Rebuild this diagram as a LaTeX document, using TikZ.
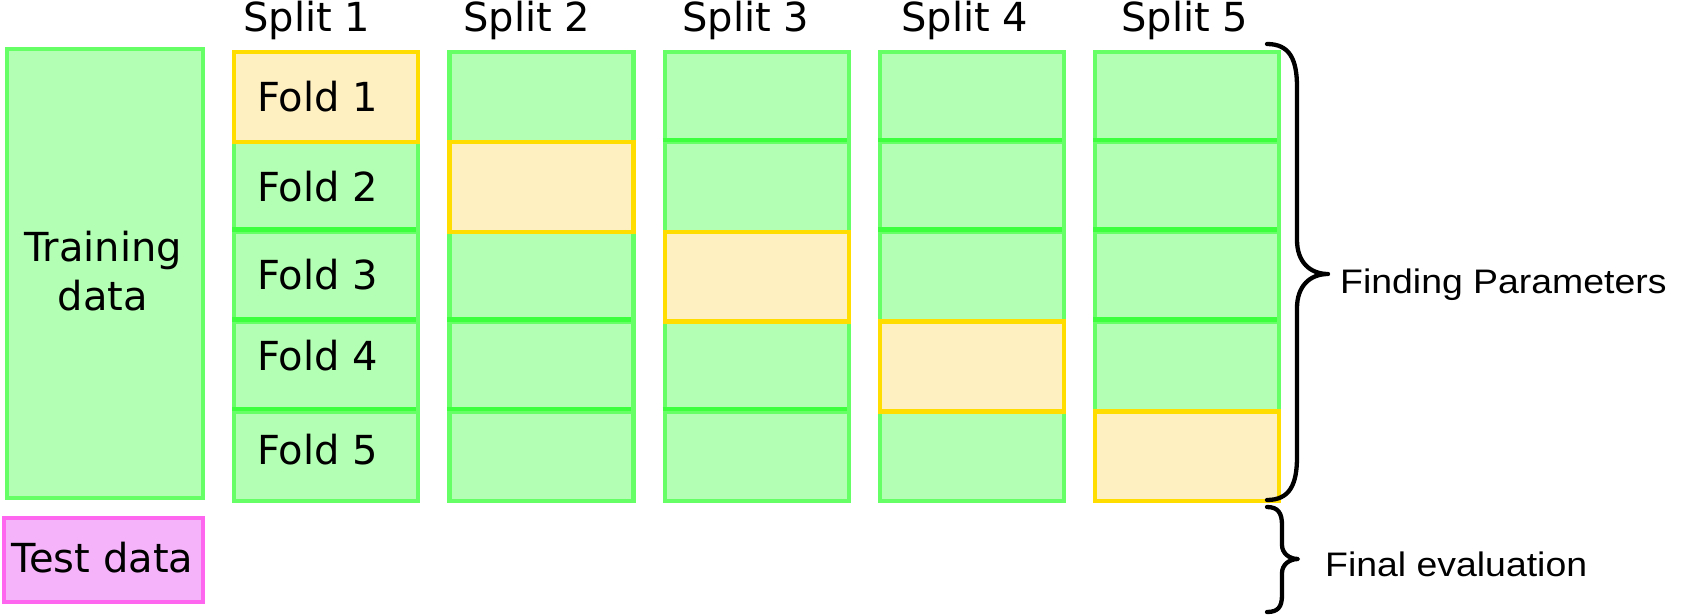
\documentclass[tikz,border=0pt]{standalone}
\usepackage{fontspec}
\setmainfont{DejaVu Sans}
\newfontfamily\labfont[FakeStretch=1.1]{Liberation Sans}
\definecolor{gfill}{HTML}{B3FFB3}
\definecolor{gline}{HTML}{66FF66}
\definecolor{gsep}{HTML}{3DFF3D}
\definecolor{yfill}{HTML}{FFF0C2}
\definecolor{yline}{HTML}{FFDD00}
\definecolor{pfill}{HTML}{F5B3F9}
\definecolor{pline}{HTML}{FF66F0}
\tikzset{
  gcell/.style={rectangle, draw=gline, fill=gfill, line width=4.3pt, minimum width=184pt, minimum height=89.8pt, inner sep=0pt, anchor=north west},
  ycell/.style={gcell, draw=yline, fill=yfill},
  sepline/.style={draw=gsep, line width=4.3pt},
  bigtxt/.style={font=\fontsize{40}{48}\selectfont, inner sep=0pt, anchor=base},
  foldtxt/.style={bigtxt, anchor=base west},
  labtxt/.style={font=\labfont\fontsize{34}{40}\selectfont, inner sep=0pt, anchor=base west},
  bracepath/.style={draw=black, line width=4.3pt, line cap=round, line join=round}
}
\begin{document}
\begin{tikzpicture}[x=1pt,y=-1pt]
\useasboundingbox (0,0) rectangle (1684,615);
% training and test boxes
\node[rectangle, draw=gline, fill=gfill, line width=4.3pt, inner sep=0pt, minimum width=196pt, minimum height=449pt, anchor=north west] (train) at (5,47) {};
\node[bigtxt] (traintxt1) at (103,261) {Training};
\node[bigtxt] (traintxt2) at (103,310) {data};
\node[rectangle, draw=pline, fill=pfill, line width=4.3pt, inner sep=0pt, minimum width=199pt, minimum height=84pt, anchor=north west] (test) at (2,516) {};
\node[bigtxt] (testtxt) at (102.5,572) {Test data};
% columns
\foreach \k in {1,...,5} {
  \foreach \r in {1,...,5} {
    \ifnum\k=\r\relax\else
      \node[gcell] (c-\k-\r) at ({232+215.25*(\k-1)},{50+89.8*(\r-1)}) {};
    \fi
  }
  \foreach \r in {2,...,5} {
    \ifnum\k=\r\relax\else
      \pgfmathtruncatemacro{\rp}{\r-1}
      \ifnum\k=\rp\relax\else
        \draw[sepline] ({232+215.25*(\k-1)},{50+89.8*(\r-1)}) -- ({232+215.25*(\k-1)+184},{50+89.8*(\r-1)});
      \fi
    \fi
  }
  \node[ycell] (c-\k-\k) at ({232+215.25*(\k-1)},{50+89.8*(\k-1)}) {};
}
% headers
\node[bigtxt] (h1) at (307,32) {Split 1};
\node[bigtxt] (h2) at (527,32) {Split 2};
\node[bigtxt] (h3) at (746,32) {Split 3};
\node[bigtxt] (h4) at (965,32) {Split 4};
\node[bigtxt] (h5) at (1185,32) {Split 5};
% fold labels
\node[foldtxt] (f1) at (257,112) {Fold 1};
\node[foldtxt] (f2) at (257,201) {Fold 2};
\node[foldtxt] (f3) at (257,289) {Fold 3};
\node[foldtxt] (f4) at (257,370) {Fold 4};
\node[foldtxt] (f5) at (257,464) {Fold 5};
% braces
\draw[bracepath] (1267,44) .. controls (1290,44) and (1297,60) .. (1297,87)
  -- (1297,240) .. controls (1297,262) and (1310,274) .. (1328,274)
  .. controls (1310,274) and (1297,286) .. (1297,308)
  -- (1297,457) .. controls (1297,484) and (1290,500) .. (1267,500);
\draw[bracepath] (1267,507) .. controls (1278,507) and (1282,513) .. (1282,525)
  -- (1282,545) .. controls (1282,553) and (1289,559) .. (1298,559)
  .. controls (1289,559) and (1282,565) .. (1282,573)
  -- (1282,595) .. controls (1282,607) and (1278,612) .. (1267,612);
\node[labtxt] (fp) at (1340,293) {Finding Parameters};
\node[labtxt] (fe) at (1325,576) {Final evaluation};
\end{tikzpicture}
\end{document}
